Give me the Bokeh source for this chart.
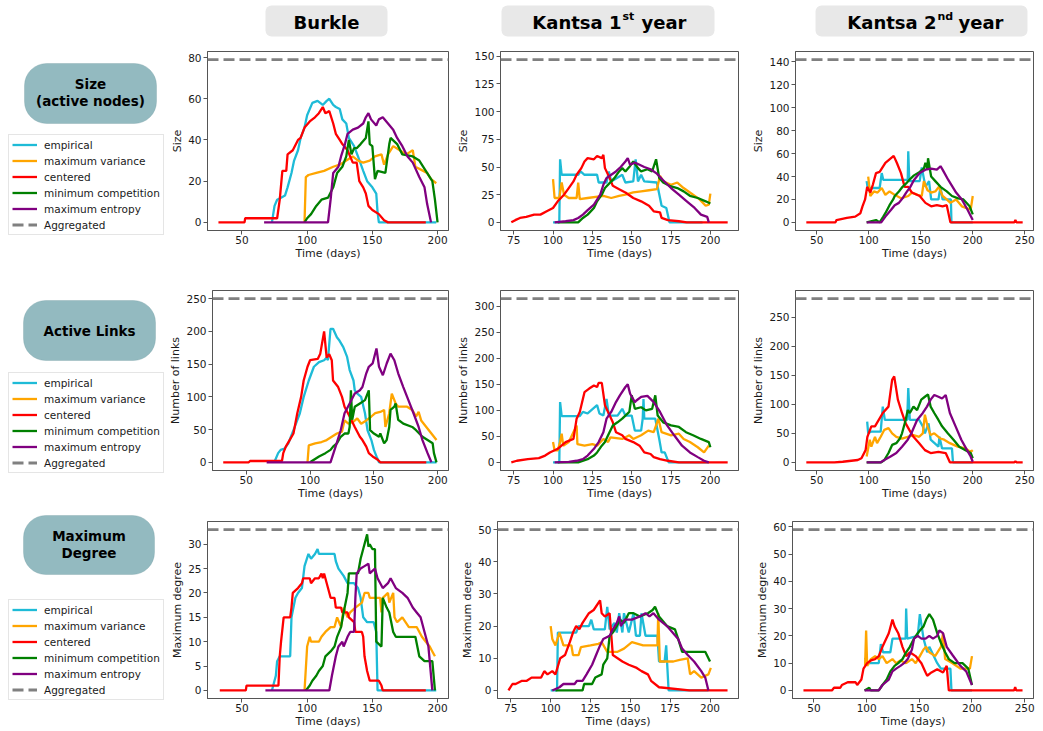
from bokeh.plotting import figure
from bokeh.layouts import row, column
from bokeh.models import Range1d, FixedTicker, Legend, LegendItem, Span, BoxAnnotation
from bokeh.core.properties import value
from bokeh.embed import file_html
from bokeh.resources import INLINE

# ---------------- labels / categories ----------------
SERIES_NAMES = ["empirical", "maximum variance", "centered", "minimum competition", "maximum entropy"]
SERIES_COLORS = ["#1ebbd7", "#ffa500", "#ff0000", "#008000", "#800080"]
AGG_NAME = "Aggregated"
Y_LABELS = ["Size", "Number of links", "Maximum degree"]
X_LABEL = "Time (days)"

AGG_BURKLE = [79, 250, 33]
AGG_KANTSA1 = [147, 315, 50]
AGG_KANTSA2 = [142, 282, 59]

X_TICKS_BURKLE = [50, 100, 150, 200]
X_TICKS_KANTSA1 = [75, 100, 125, 150, 175, 200]
X_TICKS_KANTSA2 = [50, 100, 150, 200, 250]
Y_TICKS_BURKLE = [[0, 20, 40, 60, 80], [0, 50, 100, 150, 200, 250], [0, 5, 10, 15, 20, 25, 30]]
Y_TICKS_KANTSA1 = [[0, 25, 50, 75, 100, 125, 150], [0, 50, 100, 150, 200, 250, 300], [0, 10, 20, 30, 40, 50]]
Y_TICKS_KANTSA2 = [[0, 20, 40, 60, 80, 100, 120, 140], [0, 50, 100, 150, 200, 250], [0, 10, 20, 30, 40, 50, 60]]

# ---------------- Burkle : size ----------------
B_SIZE_EMP_X = [73, 75, 77, 80, 83, 85, 88, 90, 93, 95, 98, 100, 104, 108, 112, 115, 117, 120, 122, 125, 127, 130, 132, 136, 139, 143, 146, 150, 153, 154, 155, 199]
B_SIZE_EMP_Y = [0, 8, 11, 12, 13, 17, 24, 30, 35, 41, 46, 52, 58, 59, 57, 59, 60, 57, 56, 55, 50, 48, 41, 37, 32, 25, 20, 17, 14, 5, 0, 0]
B_SIZE_MV_X = [98, 99, 101, 107, 113, 120, 125, 130, 135, 139, 143, 148, 152, 157, 159, 162, 166, 171, 176, 181, 183, 189, 192, 195, 199]
B_SIZE_MV_Y = [0, 22, 23, 24, 25, 27, 28, 30, 32, 30, 29, 30, 32, 33, 28, 33, 37, 35, 33, 35, 27, 25, 24, 21, 19]
B_SIZE_CEN_X = [32, 52, 52.5, 77, 79, 81, 84, 85, 89, 93, 95, 98, 102, 106, 109, 112, 114, 117, 120, 122, 125, 127, 131, 135, 138, 140, 143, 145, 147, 150, 155, 159, 162, 191]
B_SIZE_CEN_Y = [0, 0, 2, 2, 11, 25, 25, 33, 35, 40, 41, 46, 49, 51, 53, 56, 53, 54, 48, 43, 40, 38, 35, 29, 29, 20, 17, 14, 8, 6, 4, 1, 0, 0]
B_SIZE_MC_X = [98, 100, 103, 107, 111, 116, 120, 123, 127, 130, 132, 134, 136, 138, 141, 145, 147, 148, 150, 152, 154, 160, 163, 164, 169, 173, 181, 186, 191, 196, 198, 200]
B_SIZE_MC_Y = [0, 2, 4, 8, 11, 12, 17, 24, 27, 32, 40, 33, 36, 36, 38, 41, 49, 38, 37, 21, 25, 24, 38, 41, 38, 33, 32, 30, 25, 20, 11, 0]
B_SIZE_ME_X = [67, 116, 118, 120, 124, 126, 129, 131, 135, 139, 143, 145, 147, 149, 153, 155, 158, 162, 166, 169, 173, 177, 181, 186, 190, 192, 195]
B_SIZE_ME_Y = [0, 0, 11, 24, 27, 32, 38, 43, 45, 46, 48, 51, 53, 50, 47, 50, 51, 48, 45, 41, 37, 32, 29, 22, 17, 9, 0]

# ---------------- Burkle : links ----------------
B_LINK_EMP_X = [72, 75, 77, 80, 83, 85, 88, 92, 95, 99, 103, 107, 111, 113, 114, 116, 118, 121, 123, 126, 129, 131, 134, 135, 137, 140, 143, 145, 148, 150, 152, 154, 199]
B_LINK_EMP_Y = [0, 14, 19, 21, 29, 39, 54, 75, 100, 125, 146, 153, 156, 160, 156, 204, 204, 191, 186, 176, 161, 141, 125, 110, 105, 100, 75, 49, 34, 19, 9, 0, 0]
B_LINK_MV_X = [98, 99, 104, 109, 113, 117, 121, 125, 127, 130, 134, 137, 140, 144, 148, 151, 155, 158, 159, 162, 164, 167, 169, 176, 180, 183, 185, 187, 191, 195, 199]
B_LINK_MV_Y = [0, 26, 29, 31, 34, 39, 44, 47, 64, 59, 62, 67, 59, 64, 70, 75, 77, 80, 54, 75, 105, 90, 85, 85, 80, 70, 77, 64, 54, 44, 34]
B_LINK_CEN_X = [32, 52, 53, 78, 79, 81, 84, 87, 90, 93, 95, 98, 100, 106, 108, 111, 113, 115, 117, 118, 122, 125, 127, 131, 135, 139, 141, 144, 146, 149, 153, 155, 191]
B_LINK_CEN_Y = [0, 0, 2, 2, 14, 24, 34, 44, 75, 100, 125, 146, 156, 158, 166, 200, 160, 165, 156, 125, 115, 100, 85, 70, 54, 39, 34, 24, 14, 9, 4, 0, 0]
B_LINK_MC_X = [100, 103, 107, 112, 116, 118, 121, 124, 127, 130, 131, 132, 133, 135, 139, 143, 146, 147, 150, 154, 155, 158, 160, 162, 163, 166, 167, 169, 173, 180, 183, 188, 192, 196, 197, 199]
B_LINK_MC_Y = [0, 4, 9, 14, 19, 24, 29, 39, 44, 44, 54, 110, 65, 85, 90, 95, 110, 49, 44, 39, 44, 29, 34, 54, 80, 85, 90, 65, 59, 54, 49, 39, 34, 29, 14, 0]
B_LINK_ME_X = [66, 116, 120, 124, 127, 131, 135, 139, 141, 144, 146, 149, 152, 154, 157, 160, 163, 166, 169, 173, 177, 181, 185, 188, 192, 195]
B_LINK_ME_Y = [0, 0, 24, 49, 75, 90, 105, 110, 115, 136, 146, 151, 174, 146, 133, 151, 166, 156, 136, 115, 95, 75, 54, 34, 14, 0]

# ---------------- Burkle : max degree ----------------
B_DEG_EMP_X = [73, 76, 77, 79, 87, 88, 91, 93, 96, 98, 101, 103, 106, 108, 109, 121, 122, 124, 128, 131, 136, 139, 141, 143, 146, 151, 153, 154, 199]
B_DEG_EMP_Y = [0, 3, 6, 7, 7, 15, 19, 20, 21, 25.5, 28, 27, 28, 29, 28, 28, 26.5, 25, 23.5, 22, 22, 21, 19, 15, 14, 14, 12, 0, 0]
B_DEG_MV_X = [98, 100, 102, 103, 109, 111, 114, 118, 121, 123, 126, 128, 131, 133, 137, 142, 144, 147, 148, 156, 157, 158, 162, 163, 166, 167, 169, 173, 178, 184, 188, 191, 194, 196, 198]
B_DEG_MV_Y = [0, 9, 11, 10, 10, 11, 12, 13, 13, 15, 13, 17, 15, 16, 17, 18, 20, 20, 19, 19, 16, 19, 20, 18, 20, 15, 14, 15, 13, 13, 11, 10, 9, 8, 7]
B_DEG_CEN_X = [33, 53, 53.5, 78, 79, 80, 82, 87, 88, 89, 93, 96, 97, 102, 103, 106, 109, 111, 112, 113, 116, 118, 121, 122, 126, 127, 131, 132, 136, 137, 142, 143, 144, 146, 148, 155, 157, 158, 191]
B_DEG_CEN_Y = [0, 0, 1, 1, 7, 10, 15, 15, 17, 20, 21, 22, 23, 23, 22, 23, 23, 24, 23, 24, 21, 19, 19, 17, 17, 16, 16, 15, 14, 12, 12, 11, 7, 4, 2, 2, 1, 0, 0]
B_DEG_MC_X = [99, 102, 104, 107, 109, 112, 114, 118, 121, 123, 126, 128, 131, 132, 139, 141, 143, 146, 147, 148, 150, 152, 153, 157, 158, 161, 163, 166, 168, 183, 186, 190, 196, 198]
B_DEG_MC_Y = [0, 1, 2, 3, 4, 5, 7, 8, 9, 11, 13, 16, 20, 24, 24, 27, 29, 32, 29.5, 30, 29, 29, 10, 9, 19, 17, 16, 12, 11, 11, 7, 6, 6, 0]
B_DEG_ME_X = [68, 117, 119, 122, 124, 127, 128, 131, 133, 136, 137, 138, 141, 144, 147, 148, 152, 154, 158, 162, 164, 168, 173, 177, 181, 184, 187, 190, 193, 194, 196]
B_DEG_ME_Y = [0, 0, 3, 7, 9, 10, 9, 11, 12, 12, 19, 24, 25, 25.5, 26, 24, 25, 23, 21, 22, 23, 21, 20, 19, 17, 16, 15, 12, 9, 6, 0]

# ---------------- Kantsa 1st year : size ----------------
K1_SIZE_EMP_X = [100, 104, 104.5, 105.5, 116, 117.5, 120, 128, 129, 134, 135.5, 137, 144, 146, 151, 152.5, 154, 156, 158, 166, 169, 172, 174, 195]
K1_SIZE_EMP_Y = [0, 0, 57, 43, 43, 46, 43, 43, 36, 36, 46, 37, 43, 36, 37, 57, 37, 43, 37, 36, 15, 13, 0, 0]
K1_SIZE_MV_X = [100, 101, 104, 105.5, 107, 110, 115, 116, 117, 122, 132, 137, 142, 146, 151, 156, 161, 166, 168, 170, 175, 179, 183, 187, 193, 197, 199, 200]
K1_SIZE_MV_Y = [39, 22, 22, 36, 25, 22, 22, 36, 21, 22, 24, 22, 24, 25, 27, 28, 29, 30, 42, 37, 34, 36, 31, 27, 21, 15, 16, 26]
K1_SIZE_CEN_X = [73.5, 76, 79, 83, 88, 92, 96, 100, 103, 107, 110, 113, 115, 118, 120, 122, 126, 128, 131, 132, 133, 136, 138, 142, 146, 151, 156, 161, 164, 168, 169, 173, 180, 185, 211]
K1_SIZE_CEN_Y = [0, 2, 4, 5, 7, 7, 10, 13, 19, 25, 31, 37, 43, 49, 55, 58, 57, 60, 58, 61, 49, 40, 33, 30, 27, 22, 19, 15, 10, 9, 4, 2, 1, 0, 0]
K1_SIZE_MC_X = [103, 116, 119, 122, 126, 128, 131, 133, 137, 139, 142, 144, 146, 149, 151, 154, 156, 160, 163, 165.5, 167.5, 170, 174, 179, 183, 187, 192, 197, 200]
K1_SIZE_MC_Y = [0, 0, 4, 7, 13, 19, 25, 31, 37, 40, 46, 49, 46, 51, 55, 49, 46, 48, 46, 57, 40, 36, 33, 31, 28, 24, 22, 19, 17]
K1_SIZE_ME_X = [101, 108, 113, 116, 119, 122, 126, 130, 132, 134, 137, 140, 143, 146, 147.5, 149, 152, 155, 158, 162, 166, 170, 175, 180, 185, 190, 194, 198, 199]
K1_SIZE_ME_Y = [0, 1, 2, 4, 7, 11, 16, 25, 34, 40, 43, 46, 50, 55, 58, 52, 54, 52, 50, 48, 44, 38, 31, 25, 19, 13, 7, 5, 0]

# ---------------- Kantsa 1st year : links ----------------
K1_LINK_EMP_X = [100, 104, 104.5, 105.5, 117, 119, 122, 128, 129.5, 132, 134, 135.5, 141, 144, 146, 150, 152, 156, 157, 157.5, 158, 165, 167.5, 169, 171, 173.5, 199]
K1_LINK_EMP_Y = [0, 0, 116, 89, 89, 97, 94, 110, 94, 90, 122, 90, 90, 103, 90, 90, 61, 61, 84, 122, 84, 84, 45, 19, 19, 0, 0]
K1_LINK_MV_X = [100, 101, 103, 104.5, 105.5, 106.5, 110, 115, 115.5, 120, 125, 128, 132, 135, 136.5, 144, 148.5, 151, 156, 160.5, 164, 167, 169, 175, 180, 183, 187, 192, 196, 199]
K1_LINK_MV_Y = [39, 23, 23, 39, 55, 32, 39, 71, 35, 32, 35, 32, 45, 39, 48, 45, 52, 45, 52, 61, 58, 84, 58, 52, 55, 45, 39, 29, 19, 32]
K1_LINK_CEN_X = [73.5, 77, 84, 91, 95, 98, 103, 108, 113, 115, 117, 120, 123, 126, 128, 129, 131, 133, 135, 138, 140, 144, 146, 151, 155, 158, 162, 164, 168, 173, 180, 211]
K1_LINK_CEN_Y = [0, 3, 6, 8, 13, 19, 26, 39, 45, 84, 97, 135, 142, 148, 145, 153, 153, 110, 97, 77, 58, 52, 45, 39, 32, 19, 16, 10, 6, 3, 0, 0]
K1_LINK_MC_X = [103, 116, 122, 126, 128, 131, 133, 135, 138, 141, 144, 146, 148.5, 150, 152, 156, 159, 163, 165, 166.5, 170, 175, 180, 184.5, 189, 194, 199, 200]
K1_LINK_MC_Y = [0, 0, 6, 13, 19, 32, 39, 52, 71, 77, 84, 90, 97, 129, 103, 106, 100, 103, 129, 90, 77, 71, 68, 58, 52, 45, 39, 29]
K1_LINK_ME_X = [101, 110, 115, 119, 122, 126, 129, 132, 134, 137, 140, 142.5, 146, 147.5, 149, 152, 153, 156, 160, 164, 168, 172.5, 177, 182, 187, 192, 196, 199]
K1_LINK_ME_Y = [0, 1, 3, 6, 13, 26, 39, 58, 84, 97, 116, 129, 145, 150, 132, 116, 119, 126, 128, 116, 97, 71, 52, 32, 19, 10, 3, 0]

# ---------------- Kantsa 1st year : max degree ----------------
K1_DEG_EMP_X = [100, 104, 104.5, 116, 117.5, 124, 125.5, 127, 134, 135.5, 137, 140, 141.5, 143, 145, 146, 149, 152, 153.5, 156, 157, 159.5, 167, 168, 171.5, 172.5, 174, 199]
K1_DEG_EMP_Y = [0, 0, 18, 18, 20, 20, 22, 19, 19, 26, 19, 21, 18, 24, 18, 24, 18, 24, 17, 17, 24, 17, 17, 9, 9, 14, 0, 0]
K1_DEG_MV_X = [100, 101, 103, 105.5, 108, 113, 114, 117.5, 119, 125, 130, 132, 135.5, 142, 146, 151, 158, 167, 167.5, 168.5, 177, 181, 186, 187.5, 190, 194.5, 199, 200.5]
K1_DEG_MV_Y = [20, 16, 14, 18, 14, 14, 11, 11, 13.5, 14, 14.5, 15, 12, 12, 13, 15, 14, 14, 24, 9, 9, 9.5, 10, 5, 6, 4, 5, 7]
K1_DEG_CEN_X = [73.5, 76, 78, 82, 85, 88, 94, 96, 98, 101, 103, 106, 109, 112, 114, 116, 118, 120, 124, 127, 131, 132, 134, 137, 139, 142, 145, 149, 154, 157, 161, 163, 168, 187, 211]
K1_DEG_CEN_Y = [0, 2, 2, 3, 3, 4, 4, 6, 5, 6, 5, 10, 11, 15, 18, 20, 19, 21, 24, 25, 28, 24, 23, 24, 11, 10, 9, 8, 7, 6, 5, 3, 1, 0, 0]
K1_DEG_MC_X = [103, 120, 121, 124, 126, 128, 132, 133, 135.5, 137, 139, 141.5, 143.5, 146, 149, 152, 156, 161, 164, 165.5, 168, 173, 178, 180, 182.5, 197, 200]
K1_DEG_MC_Y = [0, 0, 2, 2, 2, 4, 5, 8, 10, 17, 18, 20, 22, 21, 24, 24, 23, 24, 25, 26, 23, 20, 19, 16, 12, 12, 9]
K1_DEG_ME_X = [101, 105.5, 108, 115, 116.5, 120, 122.5, 126, 128.5, 131, 133, 137, 139, 141.5, 143, 144, 146.5, 151, 156, 159.5, 162, 164.5, 168, 173, 176.5, 180, 182.5, 186, 190, 194.5, 197, 199]
K1_DEG_ME_Y = [0, 1, 2, 2, 3, 3, 5, 8, 11, 14, 16, 17, 19, 21, 23, 20, 22, 22, 23, 24, 23, 24, 22, 20, 18, 16, 13, 11, 9, 6, 4, 0]

# ---------------- Kantsa 2nd year : size ----------------
K2_SIZE_EMP_X = [98, 99, 110.5, 112.5, 114, 125, 137.5, 138, 139, 149, 151, 154.5, 158, 160, 167, 169, 171, 179, 179.5, 200]
K2_SIZE_EMP_Y = [36, 30, 30, 43, 37, 37, 37, 62, 36, 36, 48, 31, 36, 20, 20, 31, 20, 20, 0, 0]
K2_SIZE_MV_X = [99.5, 101.5, 105, 108.5, 112.5, 116, 120, 125, 131, 138, 141.5, 147, 151, 153, 156.5, 160, 164, 167.5, 171, 175, 178.5, 184, 189.5, 198, 200]
K2_SIZE_MV_Y = [40, 23, 27, 26, 30, 24, 27, 24, 21, 23, 26, 24, 23, 36, 28, 26, 27, 31, 23, 20, 17, 20, 14, 11, 23]
K2_SIZE_CEN_X = [40, 68, 69, 79, 87, 92, 94, 96.5, 98.5, 101.5, 104, 107, 110.5, 116, 124, 127, 131, 134.5, 138, 141.5, 149, 154.5, 160, 165.5, 171, 175, 178.5, 240, 241, 242, 248]
K2_SIZE_CEN_Y = [0, 0, 2, 4, 5, 8, 14, 20, 31, 26, 33, 43, 44, 52, 58, 52, 43, 31, 31, 26, 23, 17, 14, 15, 14, 15, 0, 0, 2, 0, 0]
K2_SIZE_MC_X = [98, 107, 110.5, 114, 116, 120, 123.5, 125, 129, 132.5, 136, 140, 143.5, 149, 153, 154.5, 156.5, 157, 160, 164, 169, 175, 180, 186, 191, 197, 200]
K2_SIZE_MC_Y = [0, 2, 0, 5, 8, 15, 20, 23, 27, 31, 34, 38, 41, 44, 47, 52, 46, 56, 40, 36, 31, 27, 23, 21, 20, 14, 7]
K2_SIZE_ME_X = [98, 112, 116, 121.5, 125, 129, 132.5, 136, 140, 143.5, 149, 154.5, 160, 165.5, 169, 171, 176.5, 184, 189.5, 195, 200]
K2_SIZE_ME_Y = [0, 0, 5, 11, 15, 17, 21, 26, 31, 37, 43, 46, 47, 46, 49, 46, 37, 26, 20, 11, 2]

# ---------------- Kantsa 2nd year : links ----------------
K2_LINK_EMP_X = [98.5, 99.5, 102.5, 111.5, 113.5, 115.5, 137, 138, 139.5, 148.5, 152, 154, 157.5, 159.5, 167, 168, 170.5, 180, 181, 200]
K2_LINK_EMP_Y = [70, 50, 53, 53, 96, 73, 73, 128, 73, 73, 62, 50, 67, 39, 27, 44, 24, 24, 0, 0]
K2_LINK_MV_X = [98, 101, 102.5, 106, 108, 111.5, 115, 119, 122.5, 126.5, 132, 137.5, 143, 148.5, 152, 154, 156.5, 159.5, 163, 169, 172.5, 178, 185.5, 193, 198, 200]
K2_LINK_MV_Y = [10, 39, 27, 44, 33, 44, 56, 59, 50, 44, 41, 44, 47, 44, 50, 82, 62, 47, 50, 41, 39, 33, 27, 24, 18, 21]
K2_LINK_CEN_X = [40, 67, 75, 89.5, 93, 97, 98.7, 102.5, 106, 113.5, 119, 122.5, 124.5, 128, 132, 135.5, 139, 143, 148.5, 154, 159.5, 167, 174, 178, 240, 241, 242, 248]
K2_LINK_CEN_Y = [0, 0, 1, 4, 7, 21, 44, 62, 62, 85, 96, 142, 148, 108, 85, 67, 56, 44, 33, 21, 16, 18, 16, 0, 0, 2, 0, 0]
K2_LINK_MC_X = [98, 112, 115, 119, 122.5, 126.5, 130, 132, 135.5, 137.5, 139.5, 143, 146.5, 150.5, 154, 157, 159.5, 163, 167, 170.5, 176, 181.5, 187, 193, 198, 200]
K2_LINK_MC_Y = [0, 0, 4, 16, 30, 33, 41, 50, 73, 90, 85, 96, 90, 108, 113, 117, 96, 85, 73, 62, 50, 39, 27, 21, 16, 7]
K2_LINK_ME_X = [98, 111.5, 115, 121, 126.5, 132, 137.5, 141, 146.5, 152, 156, 159.5, 163, 167, 170.5, 174, 178, 183.5, 189, 194.5, 198, 200]
K2_LINK_ME_Y = [0, 0, 4, 10, 16, 27, 39, 50, 73, 85, 96, 108, 116, 113, 110, 116, 85, 62, 39, 21, 10, 1]

# ---------------- Kantsa 2nd year : max degree ----------------
K2_DEG_EMP_X = [98.5, 100, 111.5, 113.5, 115.5, 122.5, 124.5, 137, 137.5, 138.5, 148.5, 150.5, 154, 157.5, 159.5, 167, 170.5, 179.5, 180.5, 200]
K2_DEG_EMP_Y = [12, 10, 10, 17, 14, 14, 19, 19, 30, 19, 20, 28, 19, 14, 16, 10, 8, 8, 0, 0]
K2_DEG_MV_X = [98.5, 99.5, 100.5, 104, 108, 111.5, 115, 119, 124.5, 128, 132, 137.5, 143, 146.5, 150.5, 154, 156.5, 159.5, 165, 170.5, 172.5, 174.5, 181.5, 189, 198, 200]
K2_DEG_MV_Y = [9, 22, 9, 11.5, 12.6, 11.5, 12.6, 10, 11.5, 10, 11, 10, 11.5, 10, 12.6, 15, 16, 14, 12.6, 16, 21, 11.5, 10, 8, 8, 12.6]
K2_DEG_CEN_X = [40, 67, 69, 75, 76.5, 82, 89.5, 91, 95, 97, 100.5, 104, 108, 111.5, 115, 121, 124.5, 126.5, 130, 134, 137.5, 141, 146.5, 152, 156, 157.5, 161.5, 167, 172.5, 176, 178, 240, 241, 242, 248]
K2_DEG_CEN_Y = [0, 0, 1, 1, 2, 3, 3, 2, 4, 8, 10, 11, 11.5, 12.6, 16, 21, 26, 23.5, 21, 16, 12.6, 14, 12.6, 10, 6.6, 5.4, 6.6, 7.8, 6.6, 9, 0, 0, 1.2, 0, 0]
K2_DEG_MC_X = [98, 102.5, 104, 111.5, 115, 119, 122.5, 126.5, 130, 134, 137.5, 141, 145, 148.5, 150.5, 154, 156.5, 159.5, 163, 167, 170.5, 174.5, 178, 183.5, 191, 196.5, 200]
K2_DEG_MC_Y = [0, 1, 0, 0, 2, 4, 7, 9, 10, 11.5, 14, 16, 19, 21, 22, 23.5, 26, 28, 26, 21, 17.5, 14, 11.5, 10, 10, 8, 2]
K2_DEG_ME_X = [98, 111.5, 115, 121, 124.5, 128, 132, 135.5, 139, 143, 145, 148.5, 152, 156, 159.5, 163, 167, 169, 172.5, 176, 181.5, 189, 194.5, 200]
K2_DEG_ME_Y = [0, 0, 2, 4, 7, 8, 9, 10, 11.5, 15, 19, 20, 19, 19, 20, 19, 20, 22, 21, 16, 13, 9, 7, 2]

# ---------------- assemble ----------------
PANELS = [
    [  # Burkle
        [(B_SIZE_EMP_X, B_SIZE_EMP_Y), (B_SIZE_MV_X, B_SIZE_MV_Y), (B_SIZE_CEN_X, B_SIZE_CEN_Y), (B_SIZE_MC_X, B_SIZE_MC_Y), (B_SIZE_ME_X, B_SIZE_ME_Y)],
        [(B_LINK_EMP_X, B_LINK_EMP_Y), (B_LINK_MV_X, B_LINK_MV_Y), (B_LINK_CEN_X, B_LINK_CEN_Y), (B_LINK_MC_X, B_LINK_MC_Y), (B_LINK_ME_X, B_LINK_ME_Y)],
        [(B_DEG_EMP_X, B_DEG_EMP_Y), (B_DEG_MV_X, B_DEG_MV_Y), (B_DEG_CEN_X, B_DEG_CEN_Y), (B_DEG_MC_X, B_DEG_MC_Y), (B_DEG_ME_X, B_DEG_ME_Y)],
    ],
    [  # Kantsa 1st year
        [(K1_SIZE_EMP_X, K1_SIZE_EMP_Y), (K1_SIZE_MV_X, K1_SIZE_MV_Y), (K1_SIZE_CEN_X, K1_SIZE_CEN_Y), (K1_SIZE_MC_X, K1_SIZE_MC_Y), (K1_SIZE_ME_X, K1_SIZE_ME_Y)],
        [(K1_LINK_EMP_X, K1_LINK_EMP_Y), (K1_LINK_MV_X, K1_LINK_MV_Y), (K1_LINK_CEN_X, K1_LINK_CEN_Y), (K1_LINK_MC_X, K1_LINK_MC_Y), (K1_LINK_ME_X, K1_LINK_ME_Y)],
        [(K1_DEG_EMP_X, K1_DEG_EMP_Y), (K1_DEG_MV_X, K1_DEG_MV_Y), (K1_DEG_CEN_X, K1_DEG_CEN_Y), (K1_DEG_MC_X, K1_DEG_MC_Y), (K1_DEG_ME_X, K1_DEG_ME_Y)],
    ],
    [  # Kantsa 2nd year
        [(K2_SIZE_EMP_X, K2_SIZE_EMP_Y), (K2_SIZE_MV_X, K2_SIZE_MV_Y), (K2_SIZE_CEN_X, K2_SIZE_CEN_Y), (K2_SIZE_MC_X, K2_SIZE_MC_Y), (K2_SIZE_ME_X, K2_SIZE_ME_Y)],
        [(K2_LINK_EMP_X, K2_LINK_EMP_Y), (K2_LINK_MV_X, K2_LINK_MV_Y), (K2_LINK_CEN_X, K2_LINK_CEN_Y), (K2_LINK_MC_X, K2_LINK_MC_Y), (K2_LINK_ME_X, K2_LINK_ME_Y)],
        [(K2_DEG_EMP_X, K2_DEG_EMP_Y), (K2_DEG_MV_X, K2_DEG_MV_Y), (K2_DEG_CEN_X, K2_DEG_CEN_Y), (K2_DEG_MC_X, K2_DEG_MC_Y), (K2_DEG_ME_X, K2_DEG_ME_Y)],
    ],
]
AGGS = [AGG_BURKLE, AGG_KANTSA1, AGG_KANTSA2]
X_TICKS = [X_TICKS_BURKLE, X_TICKS_KANTSA1, X_TICKS_KANTSA2]
Y_TICKS = [Y_TICKS_BURKLE, Y_TICKS_KANTSA1, Y_TICKS_KANTSA2]

# ---------------- layout geometry (pixels) ----------------
FONT = "DejaVu Sans"
AX_COLOR = "#555555"
TXT_COLOR = "#1a1a1a"
W_SIDE = 166
COLS = [(288, 41, 6), (295, 43, 11), (294, 43, 10)]      # width, border left, border right
ROWS = [(226, 7, 40), (238, 20, 38), (222, 13, 30)]       # height, border top, border bottom
H_HEAD = 44
H_TOTAL = H_HEAD + sum(r[0] for r in ROWS)
W_TOTAL = W_SIDE + sum(c[0] for c in COLS)


def bare_fig(w, h, x0, x1, y0, y1):
    f = figure(width=w, height=h, x_range=Range1d(x0, x1), y_range=Range1d(y0, y1),
               x_axis_type=None, y_axis_type=None, toolbar_location=None, tools="",
               output_backend="svg", min_border_left=0, min_border_right=0,
               min_border_top=0, min_border_bottom=0)
    f.outline_line_color = None
    f.grid.visible = False
    f.background_fill_color = "white"
    f.border_fill_color = "white"
    return f


def style_axis(ax, standoff, label_standoff):
    ax.major_label_text_font = FONT
    ax.major_label_text_font_size = "10.5px"
    ax.major_label_text_color = TXT_COLOR
    ax.axis_label_text_font = FONT
    ax.axis_label_text_font_size = "11px"
    ax.axis_label_text_font_style = "normal"
    ax.axis_label_text_color = TXT_COLOR
    ax.axis_line_color = AX_COLOR
    ax.major_tick_line_color = AX_COLOR
    ax.minor_tick_line_color = None
    ax.major_tick_in = 0
    ax.major_tick_out = 4
    ax.major_label_standoff = standoff
    ax.axis_label_standoff = label_standoff


def make_panel(ci, ri):
    series = PANELS[ci][ri]
    agg = AGGS[ci][ri]
    all_x = [v for m in PANELS[ci] for xs, _ in m for v in xs]
    xmin, xmax = min(all_x), max(all_x)
    xpad = 0.05 * (xmax - xmin)
    ymax = max([agg] + [v for _, ys in series for v in ys])
    ypad = 0.05 * ymax
    w, bl, br = COLS[ci]
    h, bt, bb = ROWS[ri]
    p = figure(width=w, height=h, x_range=Range1d(xmin - xpad, xmax + xpad),
               y_range=Range1d(-ypad, ymax + ypad), toolbar_location=None, tools="",
               output_backend="svg", min_border_left=bl, min_border_right=br,
               min_border_top=bt, min_border_bottom=bb)
    p.grid.visible = False
    p.outline_line_color = AX_COLOR
    p.outline_line_width = 1
    p.background_fill_color = "white"
    p.border_fill_color = "white"
    for (xs, ys), c in zip(series, SERIES_COLORS):
        p.line(xs, ys, line_color=c, line_width=2.3)
    p.add_layout(Span(location=agg, dimension="width", line_color="#808080",
                      line_width=2.8, line_dash="11 5"))
    p.xaxis.ticker = FixedTicker(ticks=X_TICKS[ci])
    p.yaxis.ticker = FixedTicker(ticks=Y_TICKS[ci][ri])
    style_axis(p.xaxis[0], 1, 0)
    style_axis(p.yaxis[0], 2, 1)
    p.yaxis.axis_label = Y_LABELS[ri]
    p.xaxis.axis_label = X_LABEL
    return p


# ---------------- side panel: row titles and legends ----------------
side = bare_fig(W_SIDE, H_TOTAL, 0, W_SIDE, 0, H_TOTAL)


def sy(v):
    return H_TOTAL - v


ROW_BOXES = [(24, 156, 63, 123), (23, 155, 300, 360), (23, 154, 515, 574)]
ROW_TEXTS = [[("Size", 83), ("(active nodes)", 100)], [("Active Links", 330)], [("Maximum", 535), ("Degree", 552)]]
LEGEND_TOPS = [136, 374, 601]
LEGEND_H = 99

for (l, r, t, b) in ROW_BOXES:
    side.add_layout(BoxAnnotation(left=l, right=r, top=sy(t), bottom=sy(b), fill_color="#93bac0",
                                  fill_alpha=1.0, line_color="#6d999f", line_width=1,
                                  border_radius=22, level="underlay"))
for (l, r, t, b), texts in zip(ROW_BOXES, ROW_TEXTS):
    side.text(x=[(l + r) / 2] * len(texts), y=[sy(v) for _, v in texts], text=[s for s, _ in texts],
              text_font=value(FONT), text_font_style="bold", text_font_size="13.5px",
              text_align="center", text_baseline="middle", text_color="black")

# legend sample renderers (placed outside the visible range)
dummies = [side.line([-50, -40], [-50, -40], line_color=c, line_width=2.3) for c in SERIES_COLORS]
dummies.append(side.line([-50, -40], [-50, -40], line_color="#808080", line_width=2.8, line_dash="11 5"))
names = SERIES_NAMES + [AGG_NAME]
for top in LEGEND_TOPS:
    items = [LegendItem(label=n, renderers=[r]) for n, r in zip(names, dummies)]
    side.add_layout(Legend(items=items, location=(8, H_TOTAL - top - LEGEND_H), padding=3, margin=0,
                           spacing=3, glyph_width=25, glyph_height=13, label_height=13,
                           label_standoff=7, label_text_font=FONT, label_text_font_size="10.5px",
                           label_text_color=TXT_COLOR, border_line_color="#cccccc",
                           border_line_width=1, background_fill_color="white",
                           background_fill_alpha=1.0))

# ---------------- header with dataset titles ----------------
head = bare_fig(W_TOTAL - W_SIDE, H_HEAD, W_SIDE, W_TOTAL, 0, H_HEAD)


def hy(v):
    return H_HEAD - v


HEAD_BOXES = [(265, 387), (501, 714), (815, 1027)]
for l, r in HEAD_BOXES:
    head.add_layout(BoxAnnotation(left=l, right=r, top=hy(5), bottom=hy(36), fill_color="#e8e8e8",
                                  fill_alpha=1.0, line_color=None, border_radius=6, level="underlay"))

bold = dict(text_font=value(FONT), text_font_style="bold", text_baseline="middle", text_color="black")
head.text(x=[326], y=[hy(21.5)], text=["Burkle"], text_font_size="18px", text_align="center", **bold)
head.text(x=[621, 936], y=[hy(21.5)] * 2, text=["Kantsa 1", "Kantsa 2"], text_font_size="18px",
          text_align="right", **bold)
head.text(x=[622, 937], y=[hy(16)] * 2, text=["st", "nd"], text_font_size="11px", text_align="left", **bold)
head.text(x=[641, 958], y=[hy(21.5)] * 2, text=["year", "year"], text_font_size="18px",
          text_align="left", **bold)

# ---------------- assemble layout ----------------
grid_rows = [row(*[make_panel(ci, ri) for ci in range(3)]) for ri in range(3)]
layout = row(side, column(head, *grid_rows))

with open("out.html", "w") as fh:
    fh.write(file_html(layout, INLINE, title="Temporal network measures"))
